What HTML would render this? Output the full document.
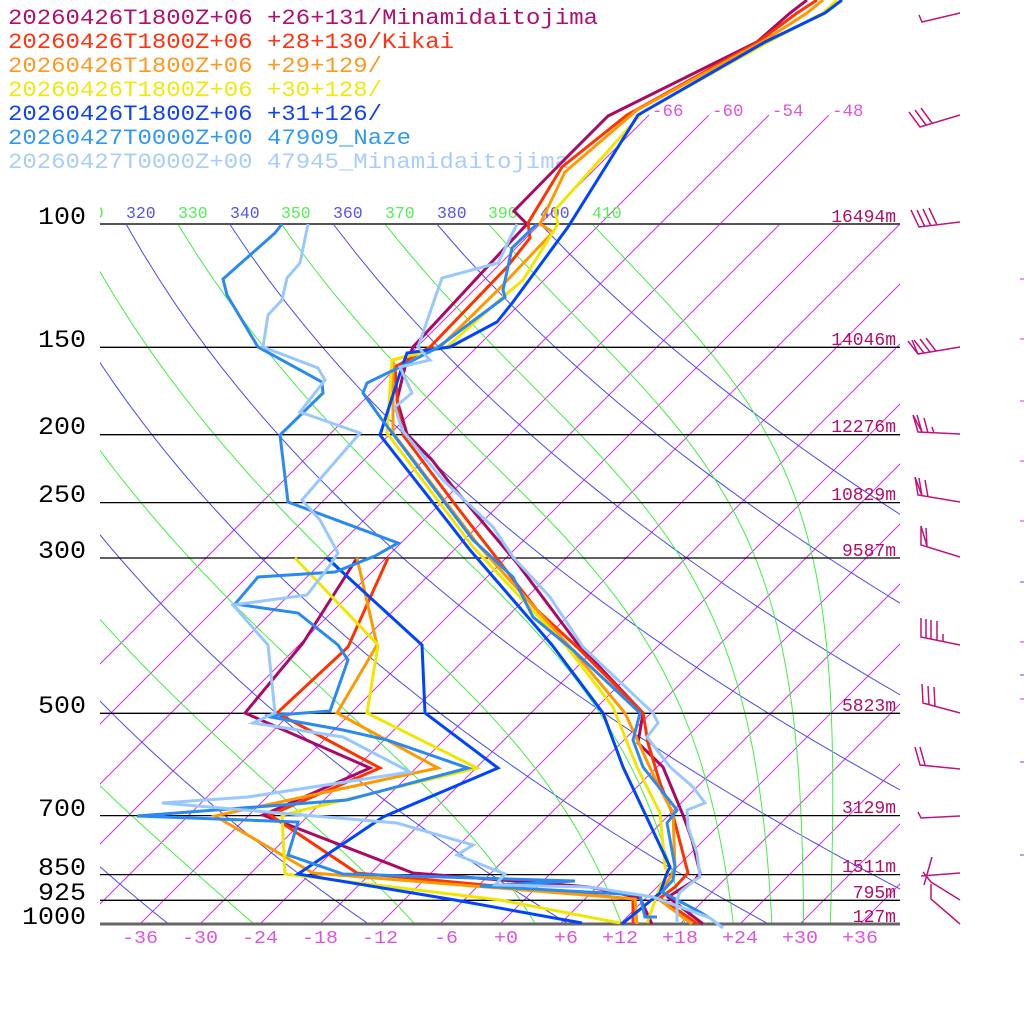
<!DOCTYPE html>
<html><head><meta charset="utf-8"><style>
html,body{margin:0;padding:0;background:#fff;}
svg{display:block;}
text{font-family:"Liberation Mono","DejaVu Sans Mono",monospace;}
</style></head><body>
<svg id="c" width="1024" height="1024" viewBox="0 0 1024 1024" xmlns="http://www.w3.org/2000/svg">
<defs>
<clipPath id="clipA"><rect x="100" y="224" width="800" height="700"/></clipPath>
<clipPath id="clipI"><rect x="100" y="0" width="800" height="924"/></clipPath>
<clipPath id="clipL"><rect x="100" y="0" width="800" height="224"/></clipPath>
</defs>
<rect width="1024" height="1024" fill="#fff"/>

<!-- legend -->
<g font-size="22">
<text x="8" y="24" fill="#b01070" textLength="590" lengthAdjust="spacingAndGlyphs">20260426T1800Z+06 +26+131/Minamidaitojima</text>
<text x="8" y="48" fill="#ff3311" textLength="446" lengthAdjust="spacingAndGlyphs">20260426T1800Z+06 +28+130/Kikai</text>
<text x="8" y="72" fill="#ff9922" textLength="374" lengthAdjust="spacingAndGlyphs">20260426T1800Z+06 +29+129/</text>
<text x="8" y="96" fill="#eeea11" textLength="374" lengthAdjust="spacingAndGlyphs">20260426T1800Z+06 +30+128/</text>
<text x="8" y="120" fill="#1144ee" textLength="374" lengthAdjust="spacingAndGlyphs">20260426T1800Z+06 +31+126/</text>
<text x="8" y="144" fill="#3399ee" textLength="403" lengthAdjust="spacingAndGlyphs">20260427T0000Z+00 47909_Naze</text>
<text x="8" y="168" fill="#aaccff" textLength="561" lengthAdjust="spacingAndGlyphs">20260427T0000Z+00 47945_Minamidaitojima</text>
</g>

<!-- isotherms -->
<g clip-path="url(#clipI)" stroke="#cc38dd" stroke-width="1" fill="none">
<line x1="-160" y1="924" x2="649" y2="115"/>
<line x1="-100" y1="924" x2="709" y2="115"/>
<line x1="-40" y1="924" x2="769" y2="115"/>
<line x1="20" y1="924" x2="829" y2="115"/>
<line x1="80" y1="924" x2="780" y2="224"/>
<line x1="140" y1="924" x2="840" y2="224"/>
<line x1="200" y1="924" x2="900" y2="224"/>
<line x1="260" y1="924" x2="960" y2="224"/>
<line x1="320" y1="924" x2="1020" y2="224"/>
<line x1="380" y1="924" x2="1080" y2="224"/>
<line x1="440" y1="924" x2="1140" y2="224"/>
<line x1="500" y1="924" x2="1200" y2="224"/>
<line x1="560" y1="924" x2="1260" y2="224"/>
<line x1="620" y1="924" x2="1320" y2="224"/>
<line x1="680" y1="924" x2="1380" y2="224"/>
<line x1="740" y1="924" x2="1440" y2="224"/>
<line x1="800" y1="924" x2="1500" y2="224"/>
<line x1="860" y1="924" x2="1560" y2="224"/>
</g>
<g font-size="17.5" fill="#dd55dd">
<text x="652" y="116">-66</text>
<text x="712" y="116">-60</text>
<text x="772" y="116">-54</text>
<text x="832" y="116">-48</text>
</g>

<!-- adiabats (filled by script) -->
<g id="dry" clip-path="url(#clipA)" stroke="#4a4af2" stroke-width="1" fill="none"></g>
<g id="moist" clip-path="url(#clipA)" stroke="#44ee44" stroke-width="1" fill="none"></g>

<!-- theta labels -->
<g font-size="16.5" clip-path="url(#clipL)">
<text x="74" y="218" fill="#55ee55">310</text>
<text x="126" y="218" fill="#5555ee">320</text>
<text x="178" y="218" fill="#55ee55">330</text>
<text x="230" y="218" fill="#5555ee">340</text>
<text x="281" y="218" fill="#55ee55">350</text>
<text x="333" y="218" fill="#5555ee">360</text>
<text x="385" y="218" fill="#55ee55">370</text>
<text x="437" y="218" fill="#5555ee">380</text>
<text x="488" y="218" fill="#55ee55">390</text>
<text x="540" y="218" fill="#5555ee">400</text>
<text x="592" y="218" fill="#55ee55">410</text>
</g>

<!-- pressure lines -->
<g stroke="#000" stroke-width="1.3">
<line x1="100" y1="347.3" x2="900" y2="347.3"/>
<line x1="100" y1="434.7" x2="900" y2="434.7"/>
<line x1="100" y1="502.6" x2="900" y2="502.6"/>
<line x1="100" y1="558" x2="900" y2="558"/>
<line x1="100" y1="713.3" x2="900" y2="713.3"/>
<line x1="100" y1="815.6" x2="900" y2="815.6"/>
<line x1="100" y1="874.6" x2="900" y2="874.6"/>
<line x1="100" y1="900.3" x2="900" y2="900.3"/>
</g>
<line x1="100" y1="224" x2="900" y2="224" stroke="#555" stroke-width="2"/>
<line x1="100" y1="924" x2="900" y2="924" stroke="#666" stroke-width="3"/>

<!-- pressure labels -->
<g font-size="25" fill="#000" text-anchor="end">
<text x="86" y="224" textLength="48" lengthAdjust="spacingAndGlyphs">100</text>
<text x="86" y="347" textLength="48" lengthAdjust="spacingAndGlyphs">150</text>
<text x="86" y="434" textLength="48" lengthAdjust="spacingAndGlyphs">200</text>
<text x="86" y="502" textLength="48" lengthAdjust="spacingAndGlyphs">250</text>
<text x="86" y="558" textLength="48" lengthAdjust="spacingAndGlyphs">300</text>
<text x="86" y="713" textLength="48" lengthAdjust="spacingAndGlyphs">500</text>
<text x="86" y="816" textLength="48" lengthAdjust="spacingAndGlyphs">700</text>
<text x="86" y="875" textLength="48" lengthAdjust="spacingAndGlyphs">850</text>
<text x="86" y="900" textLength="48" lengthAdjust="spacingAndGlyphs">925</text>
<text x="86" y="924" textLength="64" lengthAdjust="spacingAndGlyphs">1000</text>
</g>

<!-- height labels -->
<g font-size="18" fill="#b0106a" text-anchor="end">
<text x="896" y="222">16494m</text>
<text x="896" y="345">14046m</text>
<text x="896" y="432">12276m</text>
<text x="896" y="500">10829m</text>
<text x="896" y="556">9587m</text>
<text x="896" y="711">5823m</text>
<text x="896" y="813">3129m</text>
<text x="896" y="872">1511m</text>
<text x="896" y="898">795m</text>
<text x="896" y="922">127m</text>
</g>

<!-- bottom temperature labels -->
<g font-size="18" fill="#dd55dd" text-anchor="end">
<text x="158" y="943" textLength="36" lengthAdjust="spacingAndGlyphs">-36</text>
<text x="218" y="943" textLength="36" lengthAdjust="spacingAndGlyphs">-30</text>
<text x="278" y="943" textLength="36" lengthAdjust="spacingAndGlyphs">-24</text>
<text x="338" y="943" textLength="36" lengthAdjust="spacingAndGlyphs">-18</text>
<text x="398" y="943" textLength="36" lengthAdjust="spacingAndGlyphs">-12</text>
<text x="458" y="943" textLength="24" lengthAdjust="spacingAndGlyphs">-6</text>
<text x="518" y="943" textLength="24" lengthAdjust="spacingAndGlyphs">+0</text>
<text x="578" y="943" textLength="24" lengthAdjust="spacingAndGlyphs">+6</text>
<text x="638" y="943" textLength="36" lengthAdjust="spacingAndGlyphs">+12</text>
<text x="698" y="943" textLength="36" lengthAdjust="spacingAndGlyphs">+18</text>
<text x="758" y="943" textLength="36" lengthAdjust="spacingAndGlyphs">+24</text>
<text x="818" y="943" textLength="36" lengthAdjust="spacingAndGlyphs">+30</text>
<text x="878" y="943" textLength="36" lengthAdjust="spacingAndGlyphs">+36</text>
</g>

<!-- data series -->
<g fill="none" stroke-width="3" stroke-linejoin="miter" stroke-linecap="butt">
<!-- 1 Minamidaitojima model -->
<polyline stroke="#aa0a66" points="807,0 790,13 757,42 608,116 567,157 514,211 527,224 413,347 405,367 397,400 407,434 432,460 453,487 517,563 577,643 643,713 638,743 663,767 683,815 692,840 700,873 695,880 668,897 703,924"/>
<polyline stroke="#aa0a66" points="357,558 303,643 245,713 370,768 263,815 413,873 590,887 640,898 652,924"/>
<!-- 2 Kikai -->
<polyline stroke="#ff3300" points="817,0 797,13 758,42 627,115 562,167 528,223 530,238 507,267 430,347 395,367 398,410 403,435 457,507 537,610 577,647 643,713 648,743 660,783 673,815 688,873 675,887 660,898 698,924"/>
<polyline stroke="#ff3300" points="388,558 348,647 277,713 380,768 270,815 357,873 633,899 633,924"/>
<!-- 3 orange -->
<polyline stroke="#ff9900" points="823,0 807,13 762,42 637,110 565,172 540,224 553,232 533,253 498,290 440,347 393,360 393,433 480,547 570,647 625,713 657,783 673,813 675,867 673,873 657,898 692,924"/>
<polyline stroke="#ff9900" points="357,558 377,645 337,713 438,768 215,816 313,873 635,899 637,924"/>
<!-- 4 yellow -->
<polyline stroke="#f2e600" points="837,0 823,13 768,42 643,112 555,210 558,224 523,280 503,297 447,347 392,360 387,433 473,547 567,647 613,707 637,767 660,813 665,867 668,873 660,887 647,923"/>
<polyline stroke="#f2e600" points="295,558 378,645 367,713 477,768 282,815 285,874 500,900 620,923"/>
<!-- 5 blue -->
<polyline stroke="#0044ff" points="842,0 825,13 765,42 638,115 568,227 513,302 497,322 450,347 407,353 402,367 380,435 470,550 552,645 603,713 623,767 670,867 667,873 660,893 622,924"/>
<polyline stroke="#0044ff" points="327,558 422,645 425,713 498,768 383,817 298,874 455,900 582,923"/>
<!-- 6 Naze obs -->
<polyline stroke="#2a8af0" points="537,224 512,248 503,290 505,297 437,348 400,367 367,383 363,393 380,417 390,430 473,540 513,577 533,617 573,650 640,713 633,740 643,767 677,810 667,823 675,867 673,880 662,892 700,912 708,917"/>
<polyline stroke="#2a8af0" points="282,224 275,233 223,279 227,295 258,347 322,382 323,393 280,435 288,502 398,543 375,556 335,572 258,577 235,604 298,613 338,645 348,660 330,711 265,716 343,730 387,740 468,768 347,800 137,816 298,822 288,855 343,874 575,881 480,886 640,895 645,917 657,917"/>
<!-- 7 Minamidaitojima obs -->
<polyline stroke="#99c8ff" points="517,224 498,263 442,278 418,347 430,360 400,367 412,393 395,407 402,430 443,480 493,527 513,557 550,597 583,647 653,713 658,723 647,737 670,767 693,787 705,803 687,810 688,827 697,853 700,877 695,880 680,892 677,900 677,923"/>
<polyline stroke="#99c8ff" points="308,224 300,263 287,278 282,300 268,315 263,347 318,368 325,380 300,412 360,433 302,500 320,520 338,553 328,568 307,595 233,605 268,645 275,713 253,723 343,737 410,772 248,797 162,803 397,823 473,845 457,855 505,874 495,885 590,887 653,897 710,918 723,928"/>
</g>

<!-- wind barbs -->
<g stroke="#c0157a" stroke-width="1.5" fill="none">
<path d="M960,13 L922,22 L919,15"/>
<path d="M960,115 L920,127 L909,112 M926,125 L915,110 M932,123 L921,108"/>
<path d="M960,222 L919,227 L911,210 M925,227 L917,210 M931,226 L923,209 M937,225 L929,208"/>
<path d="M960,347 L918,354 L908,341 M918,354 L912,340 M924,353 L914,340 M930,352 L920,339 M936,351 L926,338"/>
<path d="M960,434 L918,432 L913,415 L922,432 L917,415 M928,433 L924,418 M934,433 L932,427"/>
<path d="M960,502 L918,495 L915,477 L922,496 L919,478 M928,497 L925,480"/>
<path d="M960,557 L921,545 L921,526 L927,546 L926,528"/>
<path d="M960,645 L921,637 L921,618 M926,638 L926,619 M931,639 L931,620 M937,640 L937,621 M943,641 L943,634"/>
<path d="M960,713 L923,703 L922,684 M929,705 L928,686 M935,706 L934,687"/>
<path d="M960,769 L920,765 L915,747 M925,765 L920,747"/>
<path d="M960,816 L921,818 L918,812"/>
<path d="M960,873 L921,876 M932,857 L924,885"/>
<path d="M960,900 L931,882 L923,872"/>
<path d="M960,924 L931,899 L931,884"/>
</g>
<g stroke-width="1">
<line x1="1020" y1="279" x2="1024" y2="279" stroke="#cc38dd"/>
<line x1="1020" y1="339" x2="1024" y2="339" stroke="#cc38dd"/>
<line x1="1020" y1="401" x2="1024" y2="401" stroke="#cc38dd"/>
<line x1="1020" y1="461" x2="1024" y2="461" stroke="#cc38dd"/>
<line x1="1020" y1="521" x2="1024" y2="521" stroke="#cc38dd"/>
<line x1="1020" y1="582" x2="1024" y2="582" stroke="#4a4af2"/>
<line x1="1020" y1="642" x2="1024" y2="642" stroke="#cc38dd"/>
<line x1="1020" y1="675" x2="1024" y2="675" stroke="#4a4af2"/>
<line x1="1020" y1="699" x2="1024" y2="699" stroke="#cc38dd"/>
<line x1="1020" y1="762" x2="1024" y2="762" stroke="#4a4af2"/>
<line x1="1020" y1="855" x2="1024" y2="855" stroke="#4a4af2"/>
</g>
</svg>
<script>
(function(){
var NS='http://www.w3.org/2000/svg';
function Y(p){return 924-304*Math.log(1000/p);}
function X(T,y){return 500+10*T+(924-y);}
var gd=document.getElementById('dry'), gm=document.getElementById('moist');
var k=0.2857;
for(var th=200;th<=400;th+=20){
  var pts=[];
  for(var p=100;p<=1000;p+=10){var T=th*Math.pow(p/1000,k)-273.15;var y=Y(p);pts.push(X(T,y).toFixed(1)+','+y.toFixed(1));}
  var pl=document.createElementNS(NS,'polyline');pl.setAttribute('points',pts.join(' '));gd.appendChild(pl);
}
function es(c){return 6.112*Math.exp(17.67*c/(c+243.5));}
function f(T,p){var e=es(T-273.15);var r=0.622*e/(p-e);var L=2.501e6,Rd=287.04,Cp=1005.7;
  return (Rd*T+L*r)/(Cp+L*L*r*0.622/(Rd*T*T))/p;}
for(var th=230;th<=410;th+=20){
  var T=th*Math.pow(0.1,k);var pts=[];
  for(var i=0;i<=900;i++){
    var p=100+i;
    if(i%5==0){var y=Y(p);pts.push(X(T-273.15,y).toFixed(1)+','+y.toFixed(1));}
    if(i<900){var k1=f(T,p);var k2=f(T+k1,p+1);T+=0.5*(k1+k2);}
  }
  var pl=document.createElementNS(NS,'polyline');pl.setAttribute('points',pts.join(' '));gm.appendChild(pl);
}
})();
</script>
</body></html>
